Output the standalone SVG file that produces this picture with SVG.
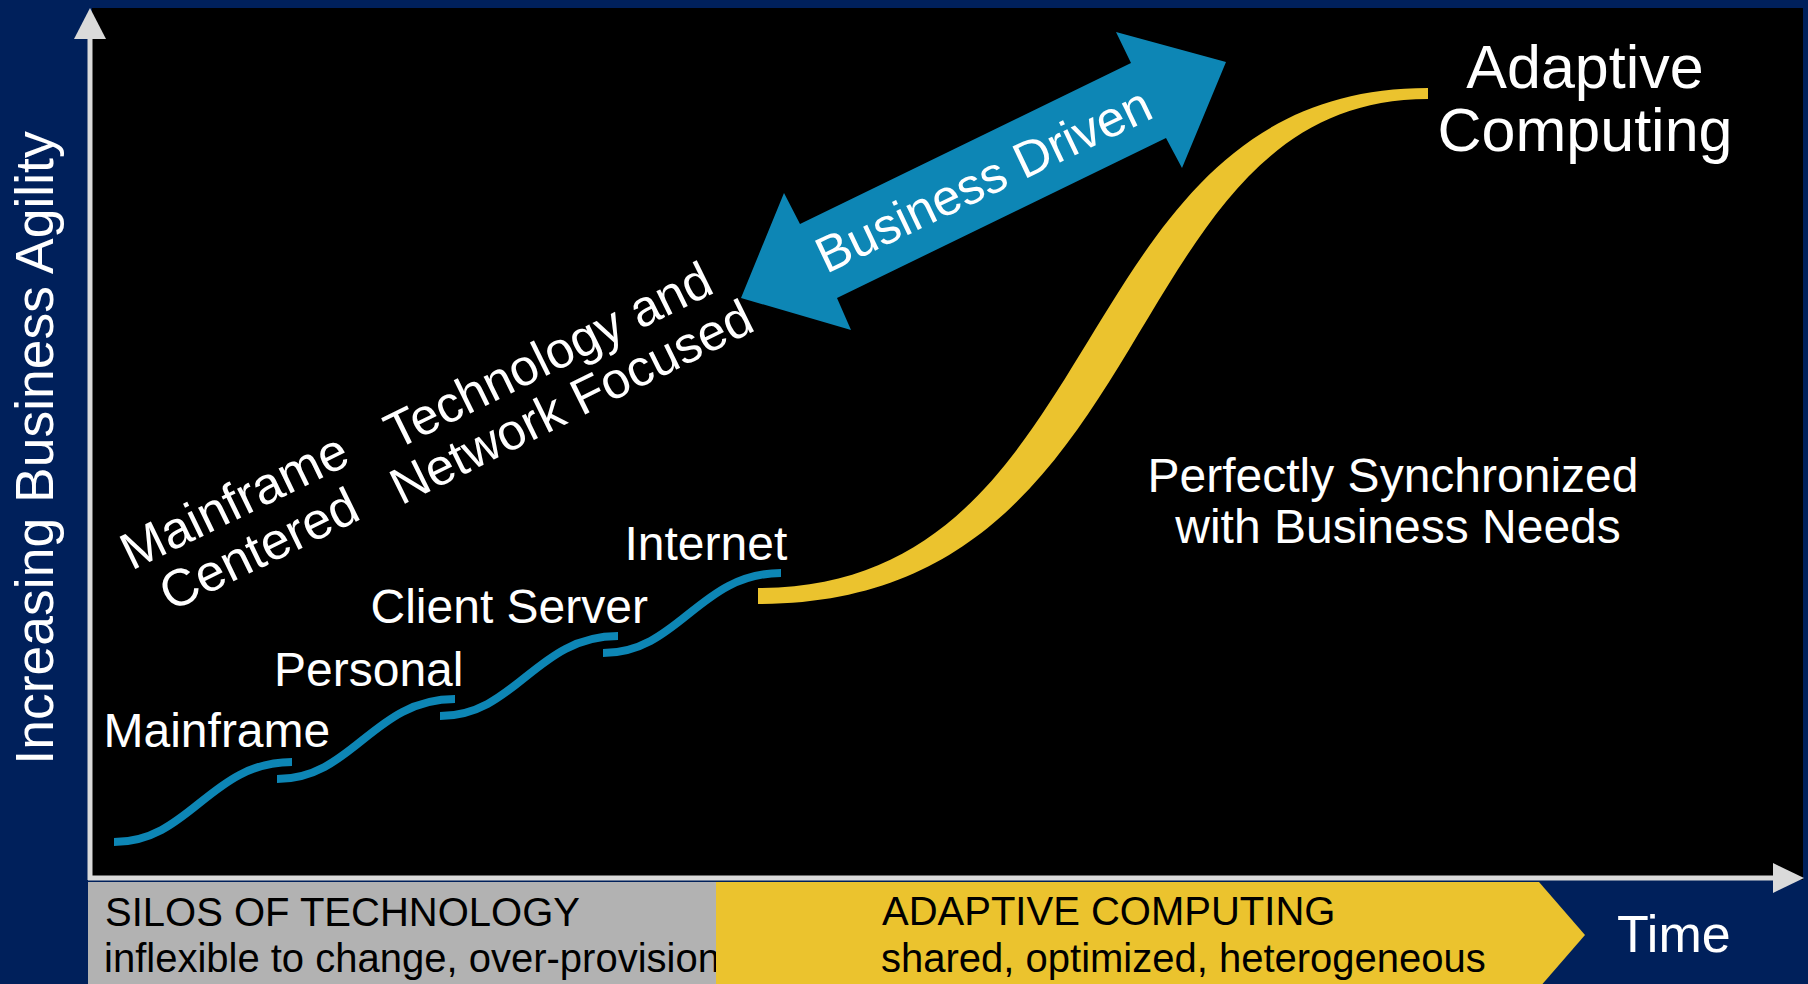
<svg xmlns="http://www.w3.org/2000/svg" width="1808" height="984" viewBox="0 0 1808 984">
  <style>
    text { font-family: "Liberation Sans", Arial, sans-serif; }
    .w { fill: #FFFFFF; }
    .lbl { font-size: 48px; fill: #FFFFFF; }
    .rot { font-size: 52px; fill: #FFFFFF; text-anchor: middle; }
    .rot2 { font-size: 51px; fill: #FFFFFF; text-anchor: middle; }
    .band { font-size: 40px; fill: #000000; }
    .step { fill: none; stroke: #0D86B5; stroke-width: 8; stroke-linecap: butt; }
    .axis { stroke: #DADADA; stroke-width: 5; fill: none; }
    .axhead { fill: #DADADA; }
  </style>
  <defs>
    <clipPath id="grayClip">
      <rect x="88" y="882" width="628" height="102"/>
    </clipPath>
  </defs>

  <!-- background -->
  <rect x="0" y="0" width="1808" height="984" fill="#00205B"/>
  <rect x="92" y="8" width="1711" height="872" fill="#000000"/>

  <!-- bottom bands -->
  <g id="silos-band">
    <rect x="88" y="882" width="628" height="102" fill="#B2B2B2"/>
    <g clip-path="url(#grayClip)">
      <text class="band" x="105" y="926">SILOS OF TECHNOLOGY</text>
      <text class="band" x="104" y="972">inflexible to change, over-provisioned</text>
    </g>
  </g>
  <g id="adaptive-band">
    <polygon points="716,882 1539,882 1585,935 1539,988 716,988" fill="#EBC32E"/>
    <text class="band" x="882" y="925">ADAPTIVE COMPUTING</text>
    <text class="band" x="881" y="972">shared, optimized, heterogeneous</text>
  </g>
  <g id="time-label">
    <text x="1617" y="952" font-size="52" class="w">Time</text>
  </g>

  <!-- axes -->
  <g id="axes">
    <line class="axis" x1="90" y1="36" x2="90" y2="880"/>
    <polygon class="axhead" points="90,8 74,39 106,39"/>
    <line class="axis" x1="88" y1="878" x2="1776" y2="878"/>
    <polygon class="axhead" points="1773,863 1804,878 1773,893"/>
  </g>

  <g id="y-axis-label">
    <text transform="translate(53,448) rotate(-90)" text-anchor="middle" font-size="53.5" class="w">Increasing Business Agility</text>
  </g>

  <!-- connectors: step curves and growth curve -->
  <g id="connectors">
    <path class="step" d="M114,842 c76,0 96,-80 178,-80"/>
    <path class="step" d="M277,779 c76,0 96,-80 178,-80"/>
    <path class="step" d="M440,716 c76,0 96,-80 178,-80"/>
    <path class="step" d="M603,653 c76,0 96,-80 178,-80"/>
    <path id="adaptive-curve" d="M758,588 C1119,588 1059,88 1428,88 L1428,99 C1111,99 1168,604 758,604 Z" fill="#EBC32E"/>
  </g>

  <!-- step labels -->
  <g id="node-mainframe"><text class="lbl" x="103.5" y="747">Mainframe</text></g>
  <g id="node-personal"><text class="lbl" x="274" y="686">Personal</text></g>
  <g id="node-client-server"><text class="lbl" x="370.5" y="623">Client Server</text></g>
  <g id="node-internet"><text class="lbl" x="624.5" y="560">Internet</text></g>

  <!-- rotated era labels -->
  <g id="era-mainframe" transform="translate(242,517) rotate(-26)">
    <text class="rot" x="0" y="0">Mainframe</text>
    <text class="rot" x="1" y="54">Centered</text>
  </g>
  <g id="era-technology" transform="translate(556,371) rotate(-26.3)">
    <text class="rot2" x="0" y="0">Technology and</text>
    <text class="rot2" x="0" y="52">Network Focused</text>
  </g>

  <!-- business driven double arrow -->
  <g id="business-driven">
    <polygon points="741,298 784,193 800,224 1131,63 1116,32 1226,62 1182,168 1166,138 837,298 851,330" fill="#0D86B5"/>
    <text transform="translate(983.5,180) rotate(-25.5)" x="0" y="17" text-anchor="middle" font-size="50.5" class="w">Business Driven</text>
  </g>

  <!-- adaptive computing title -->
  <g id="node-adaptive">
    <text x="1585" y="88" text-anchor="middle" font-size="61" class="w">Adaptive</text>
    <text x="1585" y="151" text-anchor="middle" font-size="61" class="w">Computing</text>
  </g>

  <!-- synchronized note -->
  <g id="node-synchronized">
    <text x="1393" y="492" text-anchor="middle" font-size="48" class="w">Perfectly Synchronized</text>
    <text x="1398" y="543" text-anchor="middle" font-size="48" class="w">with Business Needs</text>
  </g>
</svg>
